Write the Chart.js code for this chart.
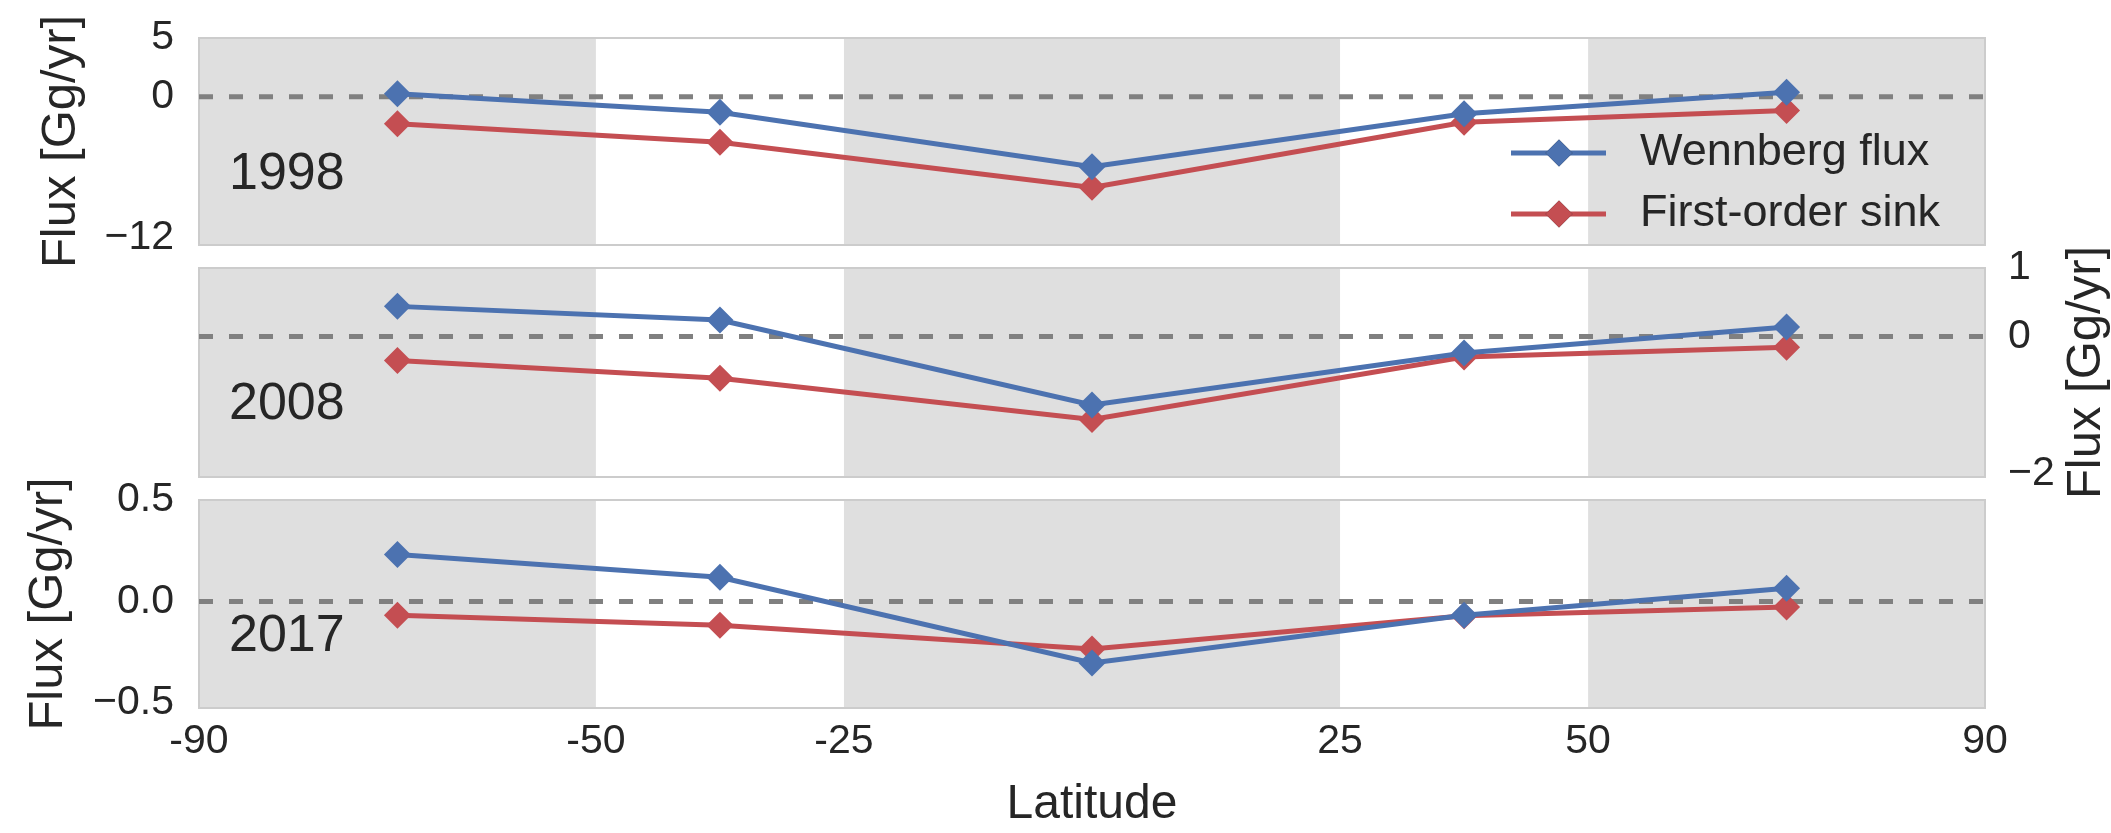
<!DOCTYPE html>
<html>
<head>
<meta charset="utf-8">
<script src="https://cdn.jsdelivr.net/npm/chart.js@4.4.1/dist/chart.umd.min.js"></script>
<style>
  html, body { margin: 0; padding: 0; background: #fff; }
  #wrap { position: relative; width: 2111px; height: 833px; overflow: hidden; }
  #wrap canvas { position: absolute; left: 0; display: block; }
</style>
</head>
<body>
<div id="wrap">
  <canvas id="c1998" width="2111" height="300" style="top:0"></canvas>
  <canvas id="c2008" width="2111" height="280" style="top:230px"></canvas>
  <canvas id="c2017" width="2111" height="373" style="top:460px"></canvas>
</div>
<script>
// ============================================
// Flux by latitude band, three years
// ============================================

const latitudes = [-70, -37.5, 0, 37.5, 70];
const seriesNames = ['Wennberg flux', 'First-order sink'];

const wennberg1998 = [0.26, -1.31, -5.94, -1.45, 0.39];
const firstOrder1998 = [-2.3, -3.87, -7.7, -2.16, -1.17];
const wennberg2008 = [0.44, 0.24, -1.0, -0.24, 0.14];
const firstOrder2008 = [-0.35, -0.61, -1.21, -0.30, -0.155];
const wennberg2017 = [0.232, 0.119, -0.303, -0.068, 0.065];
const firstOrder2017 = [-0.068, -0.117, -0.234, -0.07, -0.027];

const latTicks = [-90, -50, -25, 25, 50, 90];
const latTickLabels = ['-90', '-50', '-25', '25', '50', '90'];
const shadedBands = [[-90, -50], [-25, 25], [50, 90]];

const fluxTicks1998 = [-12, 0, 5];
const fluxTickLabels1998 = ['\u221212', '0', '5'];
const fluxTicks2008 = [-2, 0, 1];
const fluxTickLabels2008 = ['\u22122', '0', '1'];
const fluxTicks2017 = [-0.5, 0, 0.5];
const fluxTickLabels2017 = ['\u22120.5', '0.0', '0.5'];

const FONT = "'Liberation Sans', Arial, sans-serif";
const TEXT = '#262626';
const BLUE = '#4c72b0';
const RED = '#c44e52';

// grey bands, frame, dashed zero line, year tag, legend
const panelDecor = {
  id: 'panelDecor',
  beforeDatasetsDraw(chart) {
    const { ctx, chartArea: a, scales } = chart;
    ctx.save();
    ctx.fillStyle = '#dfdfdf';
    shadedBands.forEach(([lo, hi]) => {
      const x1 = scales.x.getPixelForValue(lo);
      const x2 = scales.x.getPixelForValue(hi);
      ctx.fillRect(x1, a.top, x2 - x1, a.bottom - a.top);
    });
    ctx.strokeStyle = '#cccccc';
    ctx.lineWidth = 2;
    ctx.strokeRect(a.left, a.top, a.right - a.left, a.bottom - a.top);

    const y0 = scales.y.getPixelForValue(0);
    ctx.setLineDash([14, 16]);
    ctx.strokeStyle = '#808080';
    ctx.lineWidth = 5;
    ctx.beginPath();
    ctx.moveTo(a.left, y0);
    ctx.lineTo(a.right, y0);
    ctx.stroke();
    ctx.restore();
  },
  afterDatasetsDraw(chart, args, opts) {
    const { ctx, chartArea: a } = chart;
    ctx.save();
    ctx.fillStyle = TEXT;
    ctx.textBaseline = 'middle';
    ctx.font = `52px ${FONT}`;
    ctx.fillText(opts.year, a.left + 30, a.top + 137);

    if (opts.legend) {
      ctx.font = `45px ${FONT}`;
      chart.data.datasets.forEach((ds, i) => {
        const y = a.top + 115 + i * 61;
        const x0 = a.right - 474;
        ctx.strokeStyle = ds.borderColor;
        ctx.lineWidth = 5;
        ctx.beginPath();
        ctx.moveTo(x0, y);
        ctx.lineTo(x0 + 95, y);
        ctx.stroke();
        Chart.helpers.drawPoint(ctx, {
          pointStyle: 'rectRot', radius: 13.5, borderWidth: 0
        }, x0 + 48, y);
        ctx.fillStyle = ds.borderColor;
        ctx.fill();
        ctx.fillStyle = TEXT;
        ctx.fillText(ds.label, a.right - 345, y);
      });
    }

    if (opts.rightTitle) {
      ctx.font = `49px ${FONT}`;
      ctx.textAlign = 'center';
      ctx.translate(2086, (a.top + a.bottom) / 2);
      ctx.rotate(-Math.PI / 2);
      ctx.fillText(opts.rightTitle, 0, 0);
    }
    ctx.restore();
  },
};

function makeDatasets(blue, red) {
  return [blue, red].map((vals, i) => ({
    label: seriesNames[i],
    data: latitudes.map((lat, k) => ({ x: lat, y: vals[k] })),
    borderColor: i === 0 ? BLUE : RED,
    backgroundColor: i === 0 ? BLUE : RED,
    borderWidth: 5,
    pointStyle: 'rectRot',
    pointRadius: 13.5,
    pointBorderWidth: 0,
    pointHoverRadius: 13.5,
    tension: 0,
  }));
}

function renderPanel(id, cfg) {
  const yAxis = {
    type: 'linear',
    position: cfg.axisSide,
    min: cfg.range[0],
    max: cfg.range[1],
    grid: { display: false, drawTicks: false },
    border: { display: false },
    afterBuildTicks: s => { s.ticks = cfg.ticks.map(v => ({ value: v })); },
    afterFit: s => { s.width = cfg.axisWidth; },
    ticks: {
      padding: cfg.tickPad,
      color: TEXT,
      // small lineHeight keeps the edge labels from pushing the plot area in
      font: { family: FONT, size: 41, lineHeight: 0.4 },
      callback: (v, i) => cfg.tickLabels[i],
    },
    title: {
      display: cfg.axisSide === 'left',
      text: 'Flux [Gg/yr]',
      color: TEXT,
      padding: 0,
      font: { family: FONT, size: 49, lineHeight: 1 },
    },
  };

  const xAxis = {
    type: 'linear',
    min: -90,
    max: 90,
    display: cfg.showX,
    grid: { display: false, drawTicks: false },
    border: { display: false },
    afterBuildTicks: s => { s.ticks = latTicks.map(v => ({ value: v })); },
    ticks: {
      padding: 9,
      color: TEXT,
      maxRotation: 0,
      font: { family: FONT, size: 41 },
      callback: (v, i) => latTickLabels[i],
    },
    title: {
      display: true,
      text: 'Latitude',
      color: TEXT,
      padding: { top: 0, bottom: 4 },
      font: { family: FONT, size: 48, lineHeight: 1 },
    },
  };
  if (cfg.showX) xAxis.afterFit = s => { s.height = cfg.xHeight; };

  return new Chart(document.getElementById(id), {
    type: 'line',
    data: { datasets: makeDatasets(cfg.blue, cfg.red) },
    plugins: [panelDecor],
    options: {
      responsive: false,
      animation: false,
      events: [],
      layout: { padding: cfg.padding },
      plugins: {
        legend: { display: false },
        tooltip: { enabled: false },
        panelDecor: { year: cfg.year, legend: cfg.legend, rightTitle: cfg.rightTitle },
      },
      scales: { x: xAxis, y: yAxis },
    },
  });
}

renderPanel('c1998', {
  year: '1998', legend: true,
  blue: wennberg1998, red: firstOrder1998,
  range: [-12.6, 5], ticks: fluxTicks1998, tickLabels: fluxTickLabels1998,
  axisSide: 'left', axisWidth: 162, tickPad: 25, showX: false,
  padding: { top: 38, bottom: 55, left: 37, right: 126 },
});

renderPanel('c2008', {
  year: '2008', rightTitle: 'Flux [Gg/yr]',
  blue: wennberg2008, red: firstOrder2008,
  range: [-2.05, 1], ticks: fluxTicks2008, tickLabels: fluxTickLabels2008,
  axisSide: 'right', axisWidth: 126, tickPad: 23, showX: false,
  padding: { top: 38, bottom: 33, left: 199, right: 0 },
});

renderPanel('c2017', {
  year: '2017',
  blue: wennberg2017, red: firstOrder2017,
  range: [-0.525, 0.5], ticks: fluxTicks2017, tickLabels: fluxTickLabels2017,
  axisSide: 'left', axisWidth: 175.5, tickPad: 25, showX: true, xHeight: 125,
  padding: { top: 40, bottom: 0, left: 23.5, right: 126 },
});
</script>
</body>
</html>
